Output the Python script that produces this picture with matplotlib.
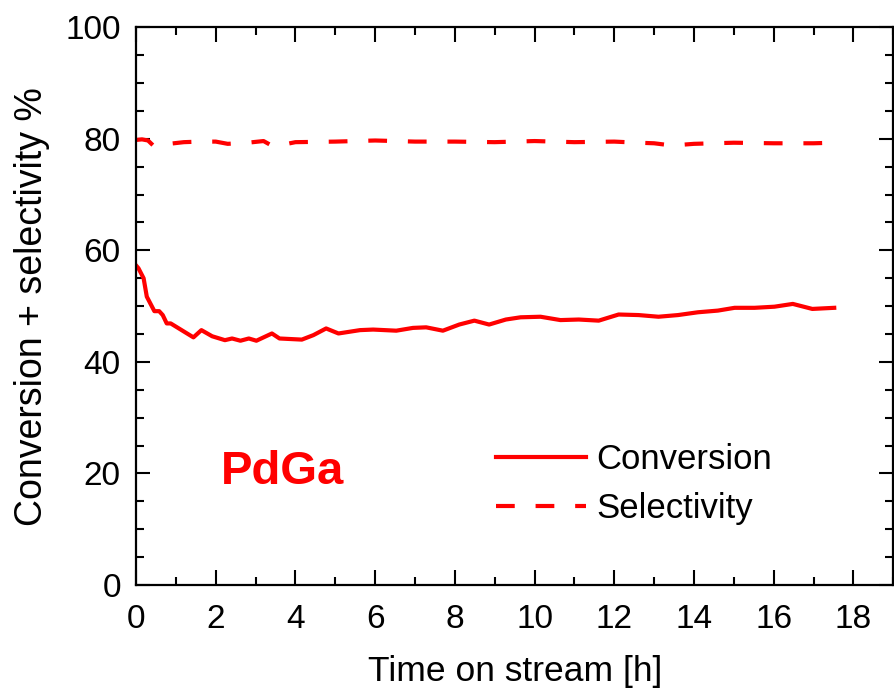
import matplotlib
matplotlib.use('Agg')
import matplotlib.pyplot as plt
from matplotlib.ticker import MultipleLocator

plt.rcParams['font.family'] = ['Liberation Sans', 'DejaVu Sans']

# conversion
t_conv = [0.0, 0.06, 0.19, 0.27, 0.46, 0.58, 0.67, 0.77, 0.87, 1.44, 1.64, 1.91,
          2.23, 2.41, 2.62, 2.83, 3.02, 3.41, 3.60, 4.16, 4.45, 4.77, 5.08, 5.62,
          5.95, 6.53, 6.95, 7.28, 7.70, 8.11, 8.49, 8.86, 9.28, 9.65, 10.15,
          10.65, 11.11, 11.61, 12.11, 12.61, 13.11, 13.60, 14.10, 14.60, 15.02,
          15.52, 16.02, 16.48, 16.97, 17.52]
conversion = [57.3, 56.8, 55.0, 51.7, 49.1, 49.1, 48.4, 46.9, 46.9, 44.4, 45.7, 44.6,
              43.9, 44.2, 43.8, 44.2, 43.8, 45.1, 44.2, 44.0, 44.8, 46.0, 45.1, 45.7,
              45.8, 45.6, 46.1, 46.2, 45.6, 46.7, 47.4, 46.7, 47.6, 48.0, 48.1,
              47.5, 47.6, 47.4, 48.5, 48.4, 48.1, 48.4, 48.9, 49.2, 49.7,
              49.7, 49.9, 50.4, 49.5, 49.7]

# selectivity
t_sel = [0.0, 0.15, 0.3, 0.46, 0.7, 1.2, 1.6, 2.0, 2.3, 2.8, 3.2, 3.45, 4.0, 5.0,
         6.0, 7.0, 8.0, 9.0, 10.0, 11.0, 12.0, 12.6, 13.0, 13.45, 14.0, 15.0,
         16.0, 17.0, 17.5]
selectivity = [79.8, 79.9, 79.7, 78.6, 79.0, 79.4, 79.5, 79.5, 79.1, 79.3, 79.6, 78.6,
               79.4, 79.5, 79.7, 79.5, 79.5, 79.4, 79.6, 79.4, 79.5, 79.3, 79.2, 78.8,
               79.1, 79.3, 79.2, 79.2, 79.3]

fig = plt.figure(figsize=(8.95, 6.92), dpi=100)
ax = fig.add_axes([0.152, 0.1546, 0.846, 0.806])

red = '#ff0000'
ax.plot(t_conv, conversion, color=red, lw=3, label='Conversion')
ax.plot(t_sel, selectivity, color=red, lw=3, dashes=(4.5, 5), label='Selectivity')

ax.set_xlim(0, 19)
ax.set_ylim(0, 100)
ax.xaxis.set_major_locator(MultipleLocator(2))
ax.xaxis.set_minor_locator(MultipleLocator(1))
ax.yaxis.set_major_locator(MultipleLocator(20))
ax.yaxis.set_minor_locator(MultipleLocator(5))

for s in ax.spines.values():
    s.set_linewidth(1.6)
ax.tick_params(which='both', direction='in', top=True, right=True, width=1.5,
               labelsize=24, colors='black')
ax.tick_params(axis='x', which='major', length=11, pad=14)
ax.tick_params(axis='x', which='minor', length=6)
ax.tick_params(axis='y', which='major', length=10, pad=11)
ax.tick_params(axis='y', which='minor', length=5.5)

ax.set_xlabel('Time on stream [h]', fontsize=25.5, labelpad=14)
ax.set_ylabel('Conversion + selectivity %', fontsize=27, labelpad=11)

ax.text(2.13, 20.3, 'PdGa', color=red, fontsize=34, fontweight='bold', va='center')

leg = ax.legend(loc='lower left', bbox_to_anchor=(0.457, 0.083), frameon=False,
                fontsize=25, handlelength=2.6, handletextpad=0.3,
                labelspacing=0.45, borderaxespad=0)

fig.savefig('out.png', dpi=100)
